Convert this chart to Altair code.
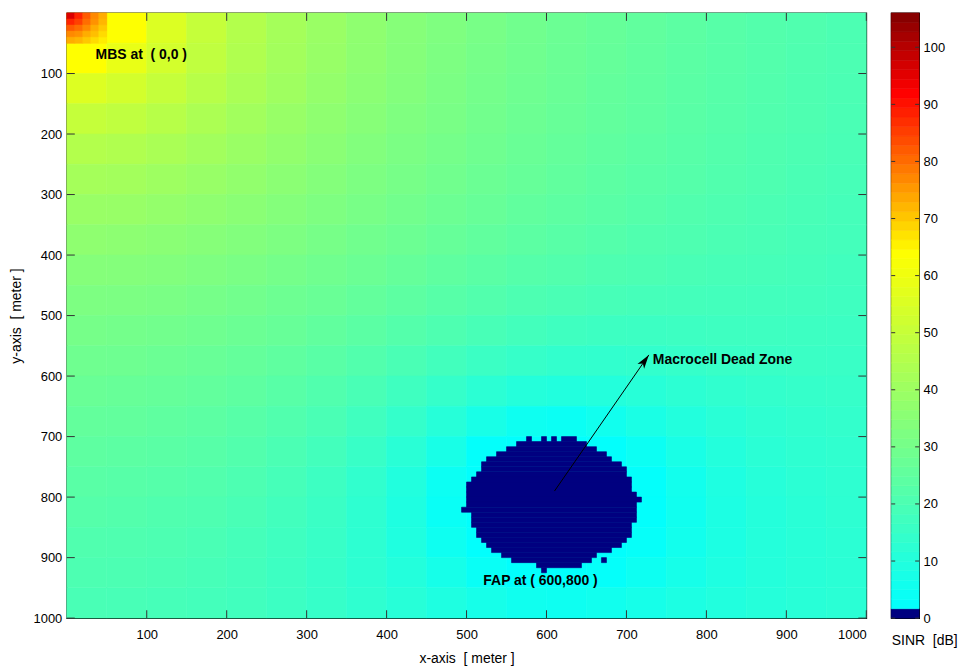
import altair as alt
import pandas as pd
import numpy as np

# ---------------- data ----------------
# SINR [dB] on 50 m cells; row j covers y = 50j..50j+50 (y grows downward), column i covers x = 50i..50i+50
sinr_rows = [
    [75.0, 63.8, 55.5, 49.8, 45.5, 42.1, 39.2, 36.7, 34.5, 32.6, 30.9, 29.3, 27.8, 26.5, 25.3, 24.1, 23.0, 22.0, 21.1, 20.2],
    [63.9, 58.7, 53.2, 48.5, 44.6, 41.4, 38.7, 36.3, 34.2, 32.3, 30.6, 29.1, 27.6, 26.3, 25.1, 23.9, 22.9, 21.9, 21.0, 20.1],
    [55.6, 53.3, 49.8, 46.4, 43.2, 40.4, 37.9, 35.6, 33.6, 31.8, 30.1, 28.6, 27.2, 25.9, 24.8, 23.7, 22.6, 21.7, 20.8, 19.9],
    [49.8, 48.5, 46.3, 43.8, 41.3, 38.9, 36.7, 34.7, 32.8, 31.1, 29.5, 28.1, 26.8, 25.6, 24.5, 23.4, 22.4, 21.5, 20.6, 19.7],
    [45.5, 44.6, 43.1, 41.2, 39.2, 37.3, 35.3, 33.5, 31.8, 30.3, 28.8, 27.4, 26.1, 24.9, 23.9, 22.8, 21.9, 21.0, 20.2, 19.4],
    [42.0, 41.4, 40.3, 38.9, 37.3, 35.5, 33.9, 32.3, 30.7, 29.2, 27.8, 26.5, 25.3, 24.2, 23.2, 22.3, 21.4, 20.6, 19.8, 19.1],
    [39.1, 38.7, 37.8, 36.6, 35.3, 33.8, 32.4, 30.9, 29.5, 28.0, 26.7, 25.4, 24.3, 23.3, 22.4, 21.5, 20.8, 20.0, 19.3, 18.6],
    [36.5, 36.1, 35.4, 34.4, 33.4, 32.1, 30.7, 29.3, 28.0, 26.5, 25.3, 24.1, 23.1, 22.2, 21.3, 20.6, 20.0, 19.5, 18.8, 18.2],
    [34.2, 33.9, 33.3, 32.5, 31.4, 30.2, 29.0, 27.7, 26.2, 24.9, 23.6, 22.5, 21.6, 20.7, 20.1, 19.5, 19.1, 18.7, 18.2, 17.6],
    [32.3, 31.9, 31.4, 30.6, 29.6, 28.4, 27.2, 25.8, 24.3, 22.9, 21.6, 20.5, 19.6, 18.9, 18.5, 18.2, 18.0, 17.8, 17.4, 17.0],
    [30.5, 30.1, 29.6, 28.8, 27.8, 26.7, 25.4, 23.8, 22.2, 20.6, 19.2, 18.0, 17.1, 16.6, 16.4, 16.6, 16.7, 16.8, 16.6, 16.3],
    [28.8, 28.5, 27.9, 27.1, 26.1, 24.8, 23.4, 21.6, 19.7, 17.8, 16.1, 14.8, 13.9, 13.6, 13.9, 14.6, 15.2, 15.6, 15.7, 15.6],
    [27.3, 26.9, 26.3, 25.5, 24.5, 23.1, 21.5, 19.5, 17.1, 14.6, 12.2, 10.5, 9.8, 10.2, 11.2, 12.3, 13.4, 14.1, 14.6, 14.9],
    [25.9, 25.5, 24.9, 24.1, 23.0, 21.5, 19.6, 17.2, 14.3, 11.0, 7.5, 5.0, 4.4, 5.7, 7.9, 9.9, 11.6, 12.9, 13.6, 14.1],
    [24.6, 24.2, 23.6, 22.8, 21.6, 20.0, 18.0, 15.2, 11.7, 7.4, 2.6, 2.2, 2.2, 2.4, 4.5, 7.7, 10.1, 11.8, 12.8, 13.4],
    [23.4, 23.0, 22.4, 21.6, 20.4, 18.8, 16.6, 13.7, 9.8, 4.6, 2.2, 2.2, 2.2, 2.2, 2.6, 6.1, 8.9, 10.9, 12.1, 12.9],
    [22.3, 22.0, 21.3, 20.6, 19.4, 17.8, 15.7, 12.8, 9.0, 3.8, 2.2, 2.2, 2.2, 2.2, 2.4, 5.5, 8.4, 10.4, 11.7, 12.5],
    [21.3, 21.0, 20.4, 19.7, 18.6, 17.1, 15.2, 12.6, 9.2, 5.0, 2.2, 2.2, 2.2, 2.2, 3.0, 6.0, 8.5, 10.3, 11.4, 12.1],
    [20.4, 20.1, 19.6, 18.9, 17.9, 16.6, 14.9, 12.7, 10.1, 7.0, 3.8, 2.2, 2.2, 2.8, 4.9, 7.1, 9.0, 10.4, 11.3, 12.0],
    [19.5, 19.3, 18.8, 18.2, 17.4, 16.3, 14.9, 13.2, 11.1, 9.0, 6.9, 5.5, 5.1, 5.7, 7.0, 8.4, 9.7, 10.7, 11.4, 11.8],
]
grid_step = 50

# hot spot next to the MBS: 10 m cells over x, y = 0..50
corner_rows = [
    [96, 88, 82, 77, 73],
    [88, 85, 80, 76, 72],
    [82, 80, 77, 73, 70],
    [77, 76, 73, 71, 68],
    [73, 72, 70, 68, 66],
]
corner_step = 10

# macrocell dead zone (SINR < 0): (y_top, y_bottom, x_left, x_right) in metres
dead_zone = [
    (700.0, 708.3, 575.0, 581.25), (700.0, 708.3, 593.75, 600.0),
    (700.0, 708.3, 606.25, 612.5), (700.0, 708.3, 618.75, 637.5),
    (708.3, 716.7, 562.5, 650.0),
    (716.7, 725.0, 550.0, 662.5),
    (725.0, 733.3, 537.5, 675.0),
    (733.3, 741.7, 525.0, 681.25),
    (741.7, 750.0, 518.75, 693.75),
    (750.0, 758.3, 518.75, 700.0),
    (758.3, 766.7, 512.5, 700.0),
    (766.7, 775.0, 506.25, 706.25),
    (775.0, 783.3, 500.0, 706.25),
    (783.3, 791.7, 500.0, 706.25),
    (791.7, 800.0, 500.0, 712.5),
    (800.0, 808.3, 500.0, 718.75),
    (808.3, 816.7, 500.0, 712.5),
    (816.7, 825.0, 493.75, 712.5),
    (825.0, 833.3, 506.25, 712.5),
    (833.3, 841.7, 506.25, 712.5),
    (841.7, 850.0, 506.25, 706.25),
    (850.0, 858.3, 512.5, 706.25),
    (858.3, 866.7, 512.5, 706.25),
    (866.7, 875.0, 518.75, 700.0),
    (875.0, 883.3, 525.0, 693.75),
    (883.3, 891.7, 531.25, 681.25),
    (891.7, 900.0, 543.75, 662.5),
    (900.0, 908.3, 556.25, 656.25), (900.0, 908.3, 668.75, 675.0),
    (908.3, 916.7, 587.5, 643.75),
    (916.7, 925.0, 593.75, 600.0),
]
dead_zone_value = -5.0

tick_vals = [100, 200, 300, 400, 500, 600, 700, 800, 900, 1000]
cbar_ticks = [0, 10, 20, 30, 40, 50, 60, 70, 80, 90, 100]
cbar_min, cbar_max, cbar_levels = 0.0, 106.0, 64

NB = "\u00a0"
ann_labels = ["MBS at" + NB + NB + "( 0,0 )", "FAP at ( 600,800 )", "Macrocell Dead Zone"]
ann_x = [36, 521, 733]
ann_y = [70, 938, 573]

arrow_from = (610, 790)
arrow_to = (728, 565)

x_title = "x-axis" + NB + NB + "[ meter ]"
y_title = "y-axis" + NB + NB + "[ meter ]"
cb_title = "SINR" + NB + NB + "[dB]"

# ---------------- tables for the library ----------------
recs = []
for j, row in enumerate(sinr_rows):
    for i, v in enumerate(row):
        recs.append(dict(x0=i * grid_step, x1=(i + 1) * grid_step,
                         y0=j * grid_step, y1=(j + 1) * grid_step, v=v))
for j, row in enumerate(corner_rows):
    for i, v in enumerate(row):
        recs.append(dict(x0=i * corner_step, x1=(i + 1) * corner_step,
                         y0=j * corner_step, y1=(j + 1) * corner_step, v=v))
for (yt, yb, xl, xr) in dead_zone:
    recs.append(dict(x0=xl, x1=xr, y0=yt, y1=yb, v=dead_zone_value))
cells = pd.DataFrame(recs)

TL_X, TL_Y = 10, 13  # inner tick length in metres
tk = []
for t in tick_vals:
    tk.append(dict(x0=t, x1=t, y0=1000, y1=1000 - TL_Y))
    tk.append(dict(x0=t, x1=t, y0=0, y1=TL_Y))
    tk.append(dict(x0=0, x1=TL_X, y0=t, y1=t))
    tk.append(dict(x0=1000, x1=1000 - TL_X, y0=t, y1=t))
ticks_df = pd.DataFrame(tk)

ann_df = pd.DataFrame({"label": ann_labels, "x0": ann_x, "y0": ann_y})
arrow_df = pd.DataFrame({"x0": [arrow_from[0]], "y0": [arrow_from[1]],
                         "x1": [arrow_to[0]], "y1": [arrow_to[1]]})
head_df = pd.DataFrame({"x0": [arrow_to[0]], "y0": [arrow_to[1]]})

edges = np.linspace(cbar_min, cbar_max, cbar_levels + 1)
cb_df = pd.DataFrame({"lo": edges[:-1], "hi": edges[1:], "mid": (edges[:-1] + edges[1:]) / 2})
cbt_df = pd.DataFrame({"lo": cbar_ticks})

# ---------------- styling ----------------
FONT = "Liberation Sans, Arial, sans-serif"
NARROW = "Liberation Sans Narrow, Arial Narrow, Liberation Sans, sans-serif"
W, H = 802, 607

cscale = alt.Scale(domain=[0, 1.6, 1.61, 64, 92, 106],
                   range=["#000080", "#000080", "#00ffff", "#ffff00", "#ff0000", "#800000"],
                   interpolate="rgb", clamp=True, zero=False, nice=False)
xs = alt.Scale(domain=[0, 1000], nice=False, zero=False)
ys = alt.Scale(domain=[0, 1000], nice=False, zero=False, reverse=True)

common_axis = dict(ticks=False, domain=False, grid=False, labelFontSize=13, titleFontSize=14,
                   labelFont=FONT, titleFont=FONT, titleFontWeight="normal", format="d",
                   labelColor="black", titleColor="black", labelOverlap=False)

x_axis = alt.Axis(values=tick_vals, title=x_title, labelPadding=10, titlePadding=11, **common_axis)
y_axis = alt.Axis(values=tick_vals, title=y_title, labelPadding=5, titlePadding=10, **common_axis)

X = lambda: alt.X("x0:Q", scale=xs, axis=x_axis, title=x_title)
Y = lambda: alt.Y("y0:Q", scale=ys, axis=y_axis, title=y_title)

heat = alt.Chart(cells).mark_rect(strokeWidth=0.6).encode(
    x=X(), x2="x1", y=Y(), y2="y1",
    color=alt.Color("v:Q", scale=cscale, legend=None),
    stroke=alt.Stroke("v:Q", scale=cscale, legend=None),
)

ticks = alt.Chart(ticks_df).mark_rule(color="#333333", strokeWidth=1).encode(
    x=X(), x2="x1", y=Y(), y2="y1")

arrow = alt.Chart(arrow_df).mark_rule(color="black", strokeWidth=1).encode(
    x=X(), x2="x1", y=Y(), y2="y1")

head = alt.Chart(head_df).mark_point(
    shape="M0,0 L0.55,1.9 L0,1.4 L-0.55,1.9 Z", filled=True, size=220, angle=35,
    color="black", opacity=1, strokeWidth=0,
).encode(x=X(), y=Y())

texts = alt.Chart(ann_df).mark_text(
    align="left", baseline="middle", font=NARROW, fontSize=14, fontWeight="bold", color="black",
).encode(x=X(), y=Y(), text="label:N")

main = alt.layer(heat, ticks, arrow, head, texts).properties(width=W, height=H)

cbs = alt.Scale(domain=[cbar_min, cbar_max], nice=False, zero=False)
cb_axis = alt.Axis(orient="right", values=cbar_ticks, labelPadding=4,
                   title=cb_title, titleAngle=0, titleAlign="left", titleBaseline="top",
                   titleX=-28, titleY=622, **common_axis)
CY = lambda: alt.Y("lo:Q", scale=cbs, axis=cb_axis, title=cb_title)

cbar = alt.Chart(cb_df).mark_rect(strokeWidth=0.6).encode(
    y=CY(), y2="hi",
    color=alt.Color("mid:Q", scale=cscale, legend=None),
    stroke=alt.Stroke("mid:Q", scale=cscale, legend=None),
)
cbt_l = alt.Chart(cbt_df).mark_rule(color="#333333").encode(
    y=CY(), x=alt.value(0), x2=alt.value(4))
cbt_r = alt.Chart(cbt_df).mark_rule(color="#333333").encode(
    y=CY(), x=alt.value(24), x2=alt.value(28))
colorbar = alt.layer(cbar, cbt_l, cbt_r).properties(width=28, height=H)

chart = alt.hconcat(main, colorbar, spacing=25, bounds="flush").resolve_scale(
    color="independent", stroke="independent"
).properties(
    padding={"left": 8, "top": 10, "right": 5, "bottom": 5}, background="white"
).configure_view(stroke="black", strokeWidth=1.3)

chart.save("out.html", embed_options={"renderer": "svg", "actions": False})
